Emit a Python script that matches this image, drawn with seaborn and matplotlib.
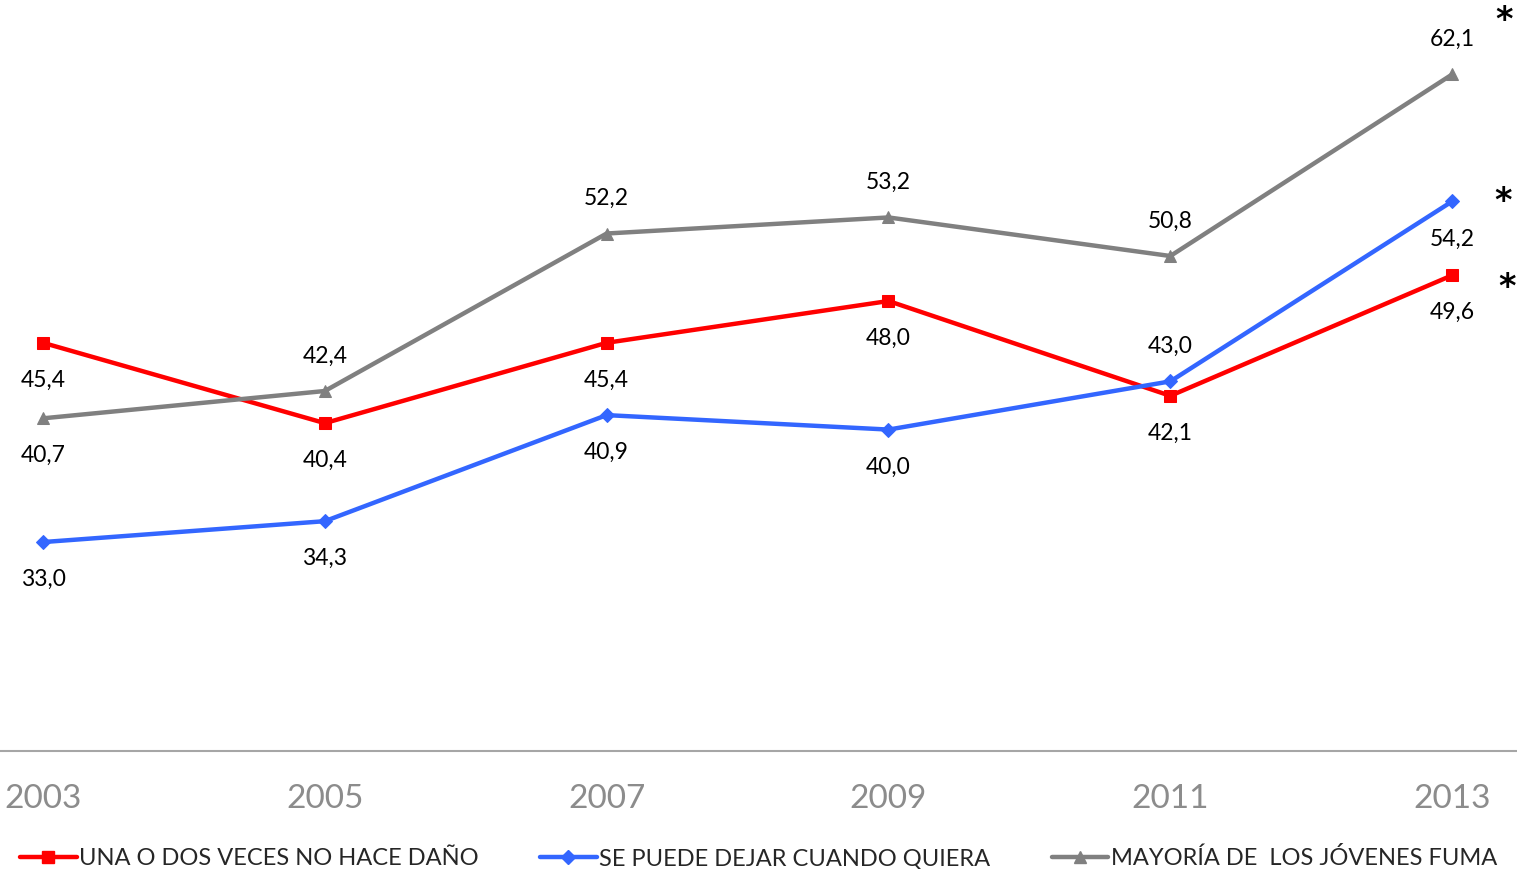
import seaborn as sns
import pandas as pd
from matplotlib import pyplot as plt
from matplotlib.lines import Line2D

years = [2003, 2005, 2007, 2009, 2011, 2013]
una_vez = [45.4, 40.4, 45.4, 48.0, 42.1, 49.6]
se_puede_dejar = [33.0, 34.3, 40.9, 40.0, 43.0, 54.2]
mayoria_fuma = [40.7, 42.4, 52.2, 53.2, 50.8, 62.1]
series_names = ['UNA O DOS VECES NO HACE DAÑO', 'SE PUEDE DEJAR CUANDO QUIERA',
                'MAYORÍA DE  LOS JÓVENES FUMA']

sns.set_style('white')
plt.rcParams['font.family'] = ['Lato', 'DejaVu Sans']

fig = plt.figure(figsize=(15.17, 8.69), dpi=100)
ax = fig.add_axes([0, 1 - 751 / 869, 1, 751 / 869])

colors = ['#FF0000', '#3366FF', '#808080']
markers = ['s', 'D', '^']
msizes = [9, 7, 9]
# where each value label goes: 1 above the point, -1 below it
label_side = [
    [-1, -1, -1, -1, -1, -1],
    [-1, -1, -1, -1, 1, -1],
    [-1, 1, 1, 1, 1, 1],
]
# offsets (px) of the significance asterisk next to the 2013 point
star_offset = [(55, -12), (51, 0), (52, 54)]

for vals, name, c, m, ms, sides, so in zip([una_vez, se_puede_dejar, mayoria_fuma], series_names,
                                          colors, markers, msizes, label_side, star_offset):
    df = pd.DataFrame({'year': years, 'value': vals})
    sns.lineplot(x='year', y='value', data=df, color=c, marker=m, markersize=ms,
                 markeredgecolor=c, linewidth=3.2, ax=ax, label=name, legend=False)
    for x, v, s in zip(years, vals, sides):
        ax.annotate(f'{v:.1f}'.replace('.', ','), xy=(x, v), xytext=(0, 25 if s > 0 else -27),
                    textcoords='offset points', ha='center', va='center', fontsize=16.5, color='black')
    ax.annotate('*', xy=(years[-1], vals[-1]), xytext=(so[0] * 0.72, so[1] * 0.72),
                textcoords='offset points', ha='center', va='center', fontsize=24,
                fontweight='bold', color='black', family='DejaVu Sans', annotation_clip=False)

ax.set_xlim(2002.695, 2013.46)
ax.set_ylim(20, 66.73)
ax.set_xticks(years)
ax.set_xticklabels([str(y) for y in years], fontsize=24, color='#8C8C8C')
ax.tick_params(axis='x', length=0, pad=24)
ax.set_yticks([])
ax.set_xlabel('')
ax.set_ylabel('')
sns.despine(ax=ax, left=True, top=True, right=True)
ax.spines['bottom'].set_color('#A6A6A6')
ax.spines['bottom'].set_linewidth(1.5)

handles = [Line2D([], [], color=c, marker=m, markersize=ms, linewidth=3.2)
           for c, m, ms in zip(colors, markers, msizes)]
fig.legend(handles, series_names, loc='lower center', bbox_to_anchor=(0.5, -0.025), ncol=3,
           frameon=False, fontsize=17, handlelength=2.4, handletextpad=0.1, columnspacing=2.6)

fig.savefig('out.png', dpi=100)
